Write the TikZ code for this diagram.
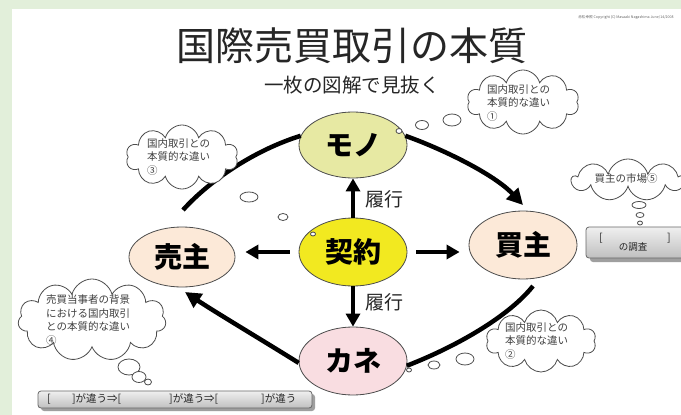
\documentclass[tikz,border=0pt]{standalone}
\usepackage{fontspec}
\newfontfamily\jp{Noto Sans CJK JP}
\usetikzlibrary{shapes.geometric,shapes.symbols,arrows.meta,calc}
\definecolor{bggreen}{RGB}{226,239,218}
\definecolor{monofill}{RGB}{231,233,163}
\definecolor{keiyakufill}{RGB}{242,233,32}
\definecolor{kanefill}{RGB}{249,221,225}
\definecolor{partyfill}{RGB}{252,233,216}
\begin{document}
\begin{tikzpicture}[x=1pt,y=-1pt,
  oval/.style={ellipse, draw=black!70, line width=0.8pt, minimum width=108pt, minimum height=66pt, inner sep=0pt, font=\jp\bfseries\fontsize{28}{28}\selectfont},
  thought/.style={cloud, cloud puffs=10, cloud ignores aspect, draw=black!70, fill=white, line width=0.8pt, inner sep=0pt},
  ctext/.style={font=\jp\fontsize{10.5}{13.5}\selectfont, text=black!75, align=left, inner sep=0pt},
  fat/.style={line width=3.5pt, -{Triangle[length=13pt,width=14pt]}},
  curve/.style={line width=4.5pt},
  curvearrow/.style={line width=4.5pt, -{Triangle[length=16pt,width=16pt]}},
  bub/.style={draw=black!70, fill=white, line width=0.8pt},
  barbox/.style={rounded corners=3pt, draw=black!60, line width=0.8pt, top color=gray!12, bottom color=gray!50},
  barshadow/.style={rounded corners=3pt, fill=gray!75},
  bartext/.style={font=\jp\fontsize{10.5}{10.5}\selectfont, text=black!85, inner sep=0pt}
]
\useasboundingbox (0,0) rectangle (681,415);
\fill[bggreen] (0,0) rectangle (681,415);
\fill[white] (12,9) rectangle (681,415);

% titles
\node[font=\jp\fontsize{39}{39}\selectfont, text=black!85] (title) at (352,46) {国際売買取引の本質};
\node[font=\jp\fontsize{19.5}{19.5}\selectfont, text=black!85] (subtitle) at (352,85) {一枚の図解で見抜く};
\node[font=\jp\fontsize{3.6}{4}\selectfont, text=black!60] (copy) at (626,17) {赤松幸照 Copyright (C) Masaaki Nagashima June/14/2008};

% main ovals
\node[oval, fill=monofill] (mono) at (353,145) {モノ};
\node[oval, fill=keiyakufill, minimum height=68pt] (keiyaku) at (353,252) {契約};
\node[oval, fill=kanefill, minimum height=68pt] (kane) at (353,361) {カネ};
\node[oval, fill=partyfill, minimum width=106pt, minimum height=60pt] (uri) at (182,257) {売主};
\node[oval, fill=partyfill, minimum height=68pt] (kai) at (523,245) {買主};

% curved connectors
\coordinate (c1s) at (183,210);
\coordinate (c2e) at (523,205);
\coordinate (c3s) at (533,286);
\coordinate (c4e) at (185,292);
\draw[curve] (c1s) .. controls (210,180) and (255,150) .. (mono.170);
\draw[curvearrow] (mono.10) .. controls (445,150) and (495,175) .. (c2e);
\draw[curve] (c3s) .. controls (510,315) and (460,345) .. (kane.-5);
\draw[curvearrow] (kane.182) .. controls (262,340) and (215,312) .. (c4e);

% straight arrows from contract
\draw[fat] (keiyaku.north) -- (mono.south);
\draw[fat] (keiyaku.south) -- (kane.north);
\draw[fat] ($(keiyaku.west)+(-9,0)$) -- ($(keiyaku.west -| uri.east)+(10,0)$);
\draw[fat] ($(keiyaku.east)+(9,0)$) -- ($(keiyaku.east -| kai.west)+(-9,0)$);
\node[font=\jp\fontsize{19}{19}\selectfont, text=black!85] (rk1) at (384,199) {履行};
\node[font=\jp\fontsize{19}{19}\selectfont, text=black!85] (rk2) at (384,302) {履行};

% thought clouds
\node[thought, minimum width=112pt, minimum height=64pt] (cl1) at (523,102) {};
\node[ctext, anchor=west] (t1) at (487,103) {国内取引との\\本質的な違い\\①};
\draw[bub] (452,120) ellipse [x radius=9, y radius=6];
\draw[bub] (422,125) ellipse [x radius=6.5, y radius=4.5];
\draw[bub] (399,131) ellipse [x radius=3, y radius=2.5];

\node[thought, minimum width=112pt, minimum height=64pt] (cl3) at (182,157) {};
\node[ctext, anchor=west] (t3) at (147,157) {国内取引との\\本質的な違い\\③};
\draw[bub] (249,197) ellipse [x radius=9, y radius=5];
\draw[bub] (283,217) ellipse [x radius=5, y radius=3.5];
\draw[bub] (313,234) ellipse [x radius=2.5, y radius=2];

\node[thought, minimum width=148pt, minimum height=82pt, cloud puffs=11] (cl4) at (92,320) {};
\node[ctext, anchor=west] (t4) at (46,320) {売買当事者の背景\\における国内取引\\との本質的な違い\\④};
\draw[bub] (129,367) ellipse [x radius=11, y radius=8];
\draw[bub] (139,377) ellipse [x radius=7, y radius=5.5];
\draw[bub] (148,382) ellipse [x radius=3.5, y radius=3];

\node[thought, minimum width=110pt, minimum height=62pt] (cl2) at (541,341) {};
\node[ctext, anchor=west] (t2) at (505,341) {国内取引との\\本質的な違い\\②};
\draw[bub] (465,359) ellipse [x radius=9, y radius=6];
\draw[bub] (434,365) ellipse [x radius=6, y radius=4];
\draw[bub] (409,370) ellipse [x radius=2.5, y radius=2];

\node[thought, minimum width=112pt, minimum height=42pt, cloud puffs=9] (cl5) at (628,180) {};
\node[ctext, anchor=center] (t5) at (626,179) {買主の市場⑤};
\draw[bub] (639,205) ellipse [x radius=7, y radius=3.5];
\draw[bub] (640,215) ellipse [x radius=4, y radius=2.5];
\draw[bub] (640,223) ellipse [x radius=2.5, y radius=2];

% boxes
\fill[barshadow] (590,232) rectangle (700,262);
\draw[barbox] (586,227) rectangle (696,258);
\node[bartext] (b5a) at (601,238) {[};
\node[bartext] (b5b) at (669,238) {]};
\node[bartext, font=\jp\fontsize{9.5}{9.5}\selectfont] (b5c) at (633,247) {の調査};

\fill[barshadow] (41,394) rectangle (315,411);
\draw[barbox] (38,391) rectangle (312,408);
\node[bartext, anchor=west] (bb1) at (47,399) {[};
\node[bartext, anchor=west] (bb2) at (72,399) {]が違う⇒[};
\node[bartext, anchor=west] (bb3) at (169,399) {]が違う⇒[};
\node[bartext, anchor=west] (bb4) at (261,399) {]が違う};
\end{tikzpicture}
\end{document}
